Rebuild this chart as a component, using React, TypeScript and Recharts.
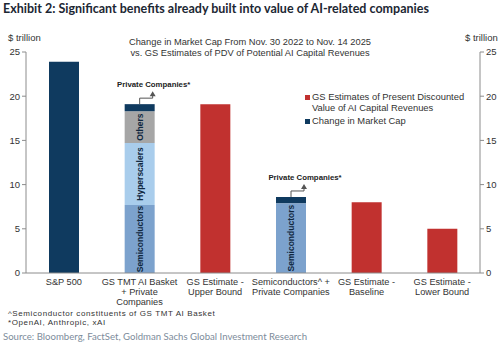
import { ComposedChart, Bar, Line, XAxis, YAxis, LabelList } from "recharts";

const categoryLines: string[][] = [
  ["S&P 500"],
  ["GS TMT AI Basket", "+ Private", "Companies"],
  ["GS Estimate -", "Upper Bound"],
  ["Semiconductors^ +", "Private Companies"],
  ["GS Estimate -", "Baseline"],
  ["GS Estimate -", "Lower Bound"],
];
const categories = categoryLines.map((l) => l.join(" "));

// $ trillion
const marketCap = [23.9, 0, 0, 0, 0, 0];
const pdvEstimate = [0, 0, 19.1, 0, 8.0, 5.0];
const semiconductors = [0, 7.7, 0, 7.9, 0, 0];
const hyperscalers = [0, 7.0, 0, 0, 0, 0];
const others = [0, 3.6, 0, 0, 0, 0];
const privateCos = [0, 0.8, 0, 0.7, 0, 0];

const yTicks = [0, 5, 10, 15, 20, 25];

const NAVY = "#0f3a5f";
const RED = "#c1312f";
const SEMI = "#7ca2cd";
const HYPER = "#a9cdec";
const GRAY = "#a6a6a6";
const AXIS = "#8c8c8c";
const TXT = "#333333";
const FONT = "'Liberation Sans', Arial, sans-serif";

const data = categories.map((name, i) => ({
  name,
  marketCap: marketCap[i],
  pdv: pdvEstimate[i],
  semis: semiconductors[i],
  hyper: hyperscalers[i],
  others: others[i],
  priv: privateCos[i],
}));

const CatTick = (props: any) => {
  const { x, y, index } = props;
  const lines = categoryLines[index] || [];
  return (
    <text x={x} y={y} textAnchor="middle" fontSize={9.2} fill={TXT} fontFamily={FONT}>
      {lines.map((l, k) => (
        <tspan key={k} x={x} dy={k === 0 ? 4 : 10}>
          {l}
        </tspan>
      ))}
    </text>
  );
};

const boxOf = (props: any) => {
  const vb = props.viewBox || {};
  return {
    x: Number(vb.x ?? props.x),
    y: Number(vb.y ?? props.y),
    w: Number(vb.width ?? props.width),
    h: Number(vb.height ?? props.height),
  };
};

const segmentLabel = (text: string) => (props: any) => {
  if (!props.value) return null;
  const b = boxOf(props);
  const cx = b.x + b.w / 2;
  const cy = b.y + b.h / 2;
  return (
    <text
      x={cx}
      y={cy}
      transform={`rotate(-90 ${cx} ${cy})`}
      textAnchor="middle"
      dominantBaseline="central"
      fontSize={8.5}
      fontWeight="bold"
      fill="#10283f"
      fontFamily={FONT}
    >
      {text}
    </text>
  );
};

const PrivateCallout = (props: any) => {
  if (!props.value) return null;
  const b = boxOf(props);
  const top = Math.min(b.y, b.y + b.h);
  const cx = b.x + b.w / 2;
  const ax = b.x + b.w - 2;
  return (
    <g>
      <path d={`M${cx},${top} V${top - 6} H${ax} V${top - 9}`} stroke="#555" strokeWidth={1} fill="none" />
      <path d={`M${ax - 3},${top - 8} L${ax},${top - 13} L${ax + 3},${top - 8} Z`} fill="#555" />
      <text
        x={ax + 1}
        y={top - 17}
        textAnchor="middle"
        fontSize={7.8}
        fontWeight="bold"
        fill="#222"
        fontFamily={FONT}
      >
        Private Companies*
      </text>
    </g>
  );
};

const abs = (left: number, top: number, extra: any = {}) => ({
  position: "absolute" as const,
  left,
  top,
  whiteSpace: "nowrap" as const,
  ...extra,
});

export default function App() {
  return (
    <div style={{ position: "absolute", left: 0, top: 0, width: 500, height: 348, background: "#fff", fontFamily: FONT }}>
      <ComposedChart
        width={500}
        height={348}
        data={data}
        margin={{ top: 52, right: 0, bottom: 0, left: 0 }}
      >
        <XAxis
          dataKey="name"
          height={75}
          interval={0}
          tickLine={false}
          axisLine={{ stroke: AXIS }}
          tick={<CatTick />}
        />
        <YAxis
          yAxisId="left"
          orientation="left"
          width={26}
          domain={[0, 25]}
          ticks={yTicks}
          tickSize={4}
          axisLine={{ stroke: AXIS }}
          tickLine={{ stroke: AXIS }}
          tick={{ fontSize: 9.5, fill: TXT, fontFamily: FONT }}
        />
        <YAxis
          yAxisId="right"
          orientation="right"
          width={20}
          domain={[0, 25]}
          ticks={yTicks}
          tickSize={4}
          axisLine={{ stroke: AXIS }}
          tickLine={{ stroke: AXIS }}
          tick={{ fontSize: 9.5, fill: TXT, fontFamily: FONT }}
        />
        <Bar yAxisId="left" dataKey="marketCap" stackId="a" barSize={30} fill={NAVY} isAnimationActive={false} />
        <Bar yAxisId="left" dataKey="pdv" stackId="a" barSize={30} fill={RED} isAnimationActive={false} />
        <Bar yAxisId="left" dataKey="semis" stackId="a" barSize={30} fill={SEMI} isAnimationActive={false}>
          <LabelList dataKey="semis" content={segmentLabel("Semiconductors")} />
        </Bar>
        <Bar yAxisId="left" dataKey="hyper" stackId="a" barSize={30} fill={HYPER} isAnimationActive={false}>
          <LabelList dataKey="hyper" content={segmentLabel("Hyperscalers")} />
        </Bar>
        <Bar yAxisId="left" dataKey="others" stackId="a" barSize={30} fill={GRAY} isAnimationActive={false}>
          <LabelList dataKey="others" content={segmentLabel("Others")} />
        </Bar>
        <Bar yAxisId="left" dataKey="priv" stackId="a" barSize={30} fill={NAVY} isAnimationActive={false}>
          <LabelList dataKey="priv" content={PrivateCallout} />
        </Bar>
        {/* invisible series so the right-hand axis is drawn */}
        <Line
          yAxisId="right"
          dataKey="pdv"
          stroke="none"
          dot={false}
          activeDot={false}
          legendType="none"
          isAnimationActive={false}
        />
      </ComposedChart>

      <div style={abs(3, 1, { fontFamily: "Lato, sans-serif", fontWeight: 700, fontSize: 12.5, color: "#1c2733" })}>
        Exhibit 2: Significant benefits already built into value of AI-related companies
      </div>

      <div style={abs(8, 32, { fontSize: 9.5, color: TXT })}>$ trillion</div>
      <div style={abs(465, 32, { fontSize: 9.5, color: TXT })}>$ trillion</div>

      <div style={abs(0, 37, { width: 500, textAlign: "center", fontSize: 9.3, lineHeight: "11px", color: TXT })}>
        Change in Market Cap From Nov. 30 2022 to Nov. 14 2025
        <br />
        vs. GS Estimates of PDV of Potential AI Capital Revenues
      </div>

      <div style={abs(305, 92, { fontSize: 9.4, lineHeight: "10.5px", color: TXT })}>
        <div style={{ display: "flex", alignItems: "flex-start" }}>
          <span style={{ display: "inline-block", width: 5, height: 5, background: RED, marginTop: 3, marginRight: 2 }} />
          <span>
            GS Estimates of Present Discounted
            <br />
            Value of AI Capital Revenues
          </span>
        </div>
        <div style={{ display: "flex", alignItems: "flex-start", marginTop: 3 }}>
          <span style={{ display: "inline-block", width: 5, height: 5, background: NAVY, marginTop: 3, marginRight: 2 }} />
          <span>Change in Market Cap</span>
        </div>
      </div>

      <div style={abs(8, 310, { fontSize: 8, letterSpacing: 0.6, lineHeight: "8.5px", color: TXT })}>
        ^Semiconductor constituents of GS TMT AI Basket
        <br />
        *OpenAI, Anthropic, xAI
      </div>

      <div style={abs(3, 331, { fontFamily: "Lato, sans-serif", fontSize: 9.6, color: "#7d8c9b" })}>
        Source: Bloomberg, FactSet, Goldman Sachs Global Investment Research
      </div>
    </div>
  );
}
